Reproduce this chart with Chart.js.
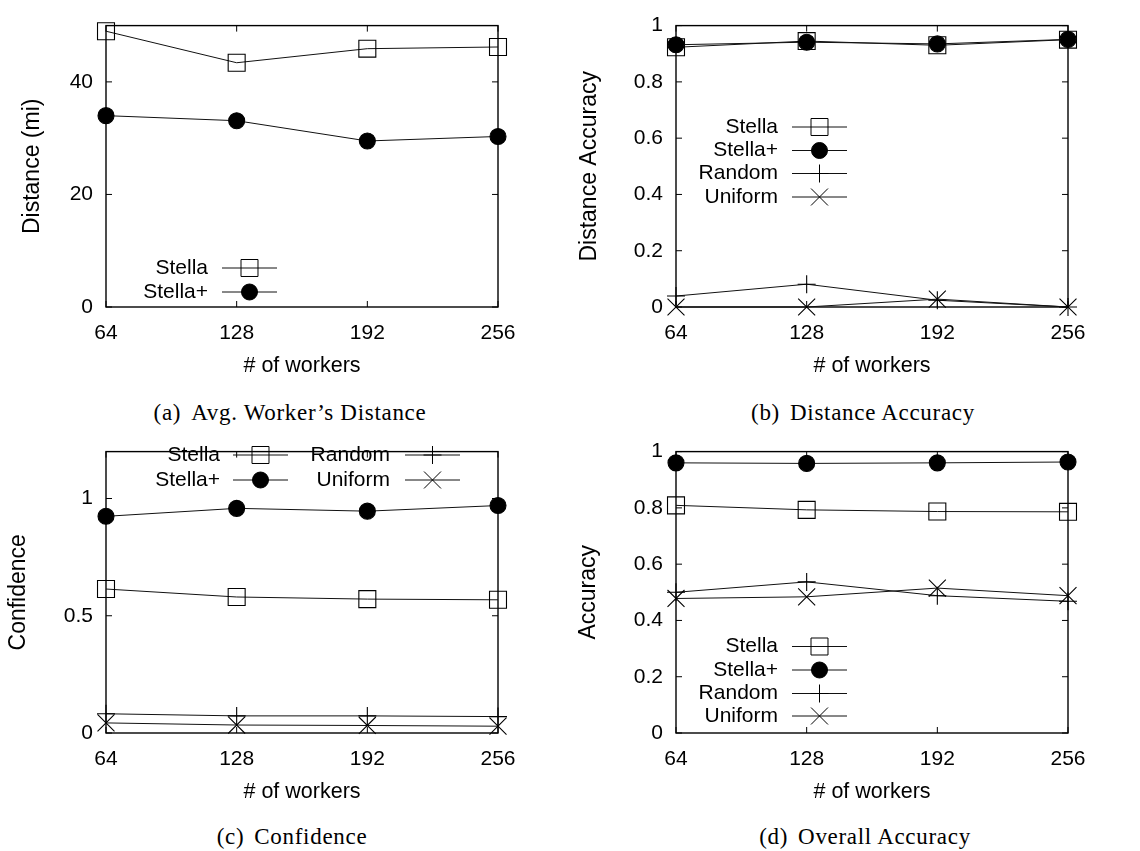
<!DOCTYPE html>
<html>
<head>
<meta charset="utf-8">
<script src="https://cdn.jsdelivr.net/npm/chart.js@4.4.1/dist/chart.umd.min.js"></script>
<style>
  html, body { margin: 0; padding: 0; background: #fff; }
  body { width: 1140px; height: 851px; position: relative; overflow: hidden; }
  canvas.panel { position: absolute; }
  .caption {
    position: absolute; width: 570px; height: 24px; line-height: 24px;
    text-align: center; font-family: "Liberation Serif", "Times New Roman", serif;
    font-size: 23px; color: #000; letter-spacing: 0.7px; white-space: nowrap;
  }
  .caption .tag { margin-right: 10px; }
</style>
</head>
<body>
<canvas id="chartA" class="panel" width="570" height="383" style="left:0;top:0"></canvas>
<canvas id="chartB" class="panel" width="570" height="383" style="left:570px;top:0"></canvas>
<canvas id="chartC" class="panel" width="570" height="383" style="left:0;top:426px"></canvas>
<canvas id="chartD" class="panel" width="570" height="383" style="left:570px;top:426px"></canvas>
<div class="caption" style="left:5px;top:401px"><span class="tag">(a)</span>Avg. Worker’s Distance</div>
<div class="caption" style="left:578px;top:401px"><span class="tag">(b)</span>Distance Accuracy</div>
<div class="caption" style="left:7px;top:825px"><span class="tag">(c)</span>Confidence</div>
<div class="caption" style="left:580px;top:825px"><span class="tag">(d)</span>Overall Accuracy</div>

<script>
// Number of workers on the x axis
const workers = [64, 128, 192, 256];
const xTickLabels = ['64', '128', '192', '256'];

// (a) Average worker's distance in miles
const distanceStella     = [49.0, 43.4, 45.9, 46.2];
const distanceStellaPlus = [34.0, 33.1, 29.5, 30.3];

// (b) Distance accuracy
const distAccStella     = [0.923, 0.945, 0.930, 0.950];
const distAccStellaPlus = [0.932, 0.941, 0.935, 0.951];
const distAccRandom     = [0.039, 0.081, 0.024, 0.000];
const distAccUniform    = [0.000, 0.000, 0.028, 0.000];

// (c) Confidence
const confStella     = [0.614, 0.580, 0.571, 0.568];
const confStellaPlus = [0.924, 0.958, 0.946, 0.970];
const confRandom     = [0.082, 0.073, 0.073, 0.070];
const confUniform    = [0.043, 0.034, 0.032, 0.029];

// (d) Overall accuracy
const overallStella     = [0.809, 0.793, 0.787, 0.786];
const overallStellaPlus = [0.960, 0.958, 0.960, 0.963];
const overallRandom     = [0.500, 0.537, 0.488, 0.468];
const overallUniform    = [0.478, 0.484, 0.515, 0.488];

const SANS = '"Liberation Sans", Arial, Helvetica, sans-serif';
const FONT_SIZE = 21;

// gnuplot-like point types for each method
const markerStyles = {
  'Stella':  { pointStyle: 'rect',     radius: 12, fill: 'rgba(0,0,0,0)', order: 4 },
  'Stella+': { pointStyle: 'circle',   radius: 8,  fill: '#000',          order: 3 },
  'Random':  { pointStyle: 'cross',    radius: 9,  fill: 'rgba(0,0,0,0)', order: 2 },
  'Uniform': { pointStyle: 'crossRot', radius: 12, fill: 'rgba(0,0,0,0)', order: 1 }
};

function makeDataset(name, values) {
  const m = markerStyles[name];
  return {
    label: name,
    data: workers.map((w, i) => ({ x: w, y: values[i] })),
    borderColor: '#111',
    borderWidth: 1,
    pointStyle: m.pointStyle,
    pointRadius: m.radius,
    pointHoverRadius: m.radius,
    pointBackgroundColor: m.fill,
    pointBorderColor: '#000',
    pointBorderWidth: 1.1,
    tension: 0,
    clip: false,
    order: m.order
  };
}

// Box border plus inward (mirrored) tick marks on all four sides
const framePlugin = {
  id: 'gnuFrame',
  beforeDatasetsDraw(chart) {
    const { ctx, chartArea: a } = chart;
    const xs = chart.scales.x, ys = chart.scales.y;
    const len = 6;
    ctx.save();
    ctx.strokeStyle = '#000';
    ctx.lineWidth = 1;
    ctx.beginPath();
    ys.ticks.forEach(t => {
      const py = ys.getPixelForValue(t.value);
      ctx.moveTo(a.left, py); ctx.lineTo(a.left + len, py);
      ctx.moveTo(a.right, py); ctx.lineTo(a.right - len, py);
    });
    xs.ticks.forEach(t => {
      const px = xs.getPixelForValue(t.value);
      ctx.moveTo(px, a.bottom); ctx.lineTo(px, a.bottom - len);
      ctx.moveTo(px, a.top); ctx.lineTo(px, a.top + len);
    });
    ctx.stroke();
    ctx.lineWidth = 1.4;
    ctx.strokeRect(a.left, a.top, a.right - a.left, a.bottom - a.top);
    ctx.restore();
  }
};

function drawMarker(ctx, style, radius, x, y) {
  const opts = { pointStyle: style, radius: radius, rotation: 0, borderWidth: 1.1 };
  if (Chart.helpers && Chart.helpers.drawPoint) {
    Chart.helpers.drawPoint(ctx, opts, x, y);
    return;
  }
  ctx.beginPath();
  if (style === 'circle') { ctx.arc(x, y, radius, 0, Math.PI * 2); ctx.fill(); }
  ctx.stroke();
}

// Key in gnuplot layout: right-aligned title, then a line sample with the point
const legendPlugin = {
  id: 'gnuLegend',
  afterDraw(chart, args, opts) {
    if (!opts || !opts.items) return;
    const ctx = chart.ctx;
    ctx.save();
    ctx.font = FONT_SIZE + 'px ' + SANS;
    ctx.textAlign = 'right';
    ctx.textBaseline = 'middle';
    opts.items.forEach(item => {
      const ds = chart.data.datasets.find(d => d.label === item.label);
      const col = opts.columns[item.col];
      const y = opts.rows[item.row];
      ctx.fillStyle = '#000';
      ctx.fillText(ds.label, col.textRight, y);
      ctx.strokeStyle = ds.borderColor;
      ctx.lineWidth = ds.borderWidth;
      ctx.beginPath();
      ctx.moveTo(col.x1, y); ctx.lineTo(col.x2, y);
      ctx.stroke();
      ctx.strokeStyle = '#000';
      ctx.fillStyle = ds.pointBackgroundColor;
      drawMarker(ctx, ds.pointStyle, ds.pointRadius, (col.x1 + col.x2) / 2, y);
    });
    ctx.restore();
  }
};

// gnuplot prints 1 and 0 without trailing decimals
const formatY = (v) => String(Number(v.toFixed(3)));

function makeChart(id, cfg) {
  const tickFont = { family: SANS, size: FONT_SIZE };
  return new Chart(document.getElementById(id), {
    type: 'line',
    data: { datasets: cfg.datasets },
    plugins: [framePlugin, legendPlugin],
    options: {
      responsive: false,
      animation: false,
      events: [],
      layout: { padding: { left: 0, right: 72, top: 15, bottom: 0 } },
      plugins: {
        legend: { display: false },
        tooltip: { enabled: false },
        gnuLegend: cfg.legend
      },
      scales: {
        x: {
          type: 'linear',
          min: workers[0],
          max: workers[workers.length - 1],
          grid: { display: false, drawTicks: false },
          border: { display: false },
          ticks: {
            stepSize: 64, color: '#000', font: tickFont, padding: 14,
            maxRotation: 0, autoSkip: false,
            callback: (v) => { const i = workers.indexOf(v); return i >= 0 ? xTickLabels[i] : ''; }
          },
          title: { display: true, text: '# of workers', color: '#000', font: { family: SANS, size: 21.5 }, padding: { top: 0, bottom: 4 } },
          afterFit: (s) => { s.height = 76; }
        },
        y: {
          min: 0,
          max: cfg.yMax,
          grid: { display: false, drawTicks: false },
          border: { display: false },
          ticks: { stepSize: cfg.yStep, includeBounds: false, color: '#000', font: tickFont, padding: 13, callback: formatY },
          title: { display: true, text: cfg.yTitle, color: '#000', font: { family: SANS, size: 23 }, padding: { top: cfg.yTitlePad, bottom: 0 } },
          afterFit: (s) => { s.width = 106; }
        }
      }
    }
  });
}

const keyCol = { textRight: 208, x1: 222, x2: 277 };

makeChart('chartA', {
  datasets: [makeDataset('Stella', distanceStella), makeDataset('Stella+', distanceStellaPlus)],
  yMax: 50, yStep: 20, yTitle: 'Distance (mi)', yTitlePad: 19,
  legend: {
    columns: [keyCol], rows: [268, 292],
    items: [{ label: 'Stella', col: 0, row: 0 }, { label: 'Stella+', col: 0, row: 1 }]
  }
});

makeChart('chartB', {
  datasets: [
    makeDataset('Stella', distAccStella), makeDataset('Stella+', distAccStellaPlus),
    makeDataset('Random', distAccRandom), makeDataset('Uniform', distAccUniform)
  ],
  yMax: 1, yStep: 0.2, yTitle: 'Distance Accuracy', yTitlePad: 6,
  legend: {
    columns: [keyCol], rows: [127, 150.5, 173.5, 197],
    items: [
      { label: 'Stella', col: 0, row: 0 }, { label: 'Stella+', col: 0, row: 1 },
      { label: 'Random', col: 0, row: 2 }, { label: 'Uniform', col: 0, row: 3 }
    ]
  }
});

makeChart('chartC', {
  datasets: [
    makeDataset('Stella', confStella), makeDataset('Stella+', confStellaPlus),
    makeDataset('Random', confRandom), makeDataset('Uniform', confUniform)
  ],
  yMax: 1.2, yStep: 0.5, yTitle: 'Confidence', yTitlePad: 4.5,
  legend: {
    columns: [{ textRight: 220, x1: 233, x2: 288 }, { textRight: 390, x1: 405, x2: 460 }],
    rows: [29, 54],
    items: [
      { label: 'Stella', col: 0, row: 0 }, { label: 'Stella+', col: 0, row: 1 },
      { label: 'Random', col: 1, row: 0 }, { label: 'Uniform', col: 1, row: 1 }
    ]
  }
});

makeChart('chartD', {
  datasets: [
    makeDataset('Stella', overallStella), makeDataset('Stella+', overallStellaPlus),
    makeDataset('Random', overallRandom), makeDataset('Uniform', overallUniform)
  ],
  yMax: 1, yStep: 0.2, yTitle: 'Accuracy', yTitlePad: 4.5,
  legend: {
    columns: [keyCol], rows: [220.5, 244, 267.5, 290],
    items: [
      { label: 'Stella', col: 0, row: 0 }, { label: 'Stella+', col: 0, row: 1 },
      { label: 'Random', col: 0, row: 2 }, { label: 'Uniform', col: 0, row: 3 }
    ]
  }
});
</script>
</body>
</html>
